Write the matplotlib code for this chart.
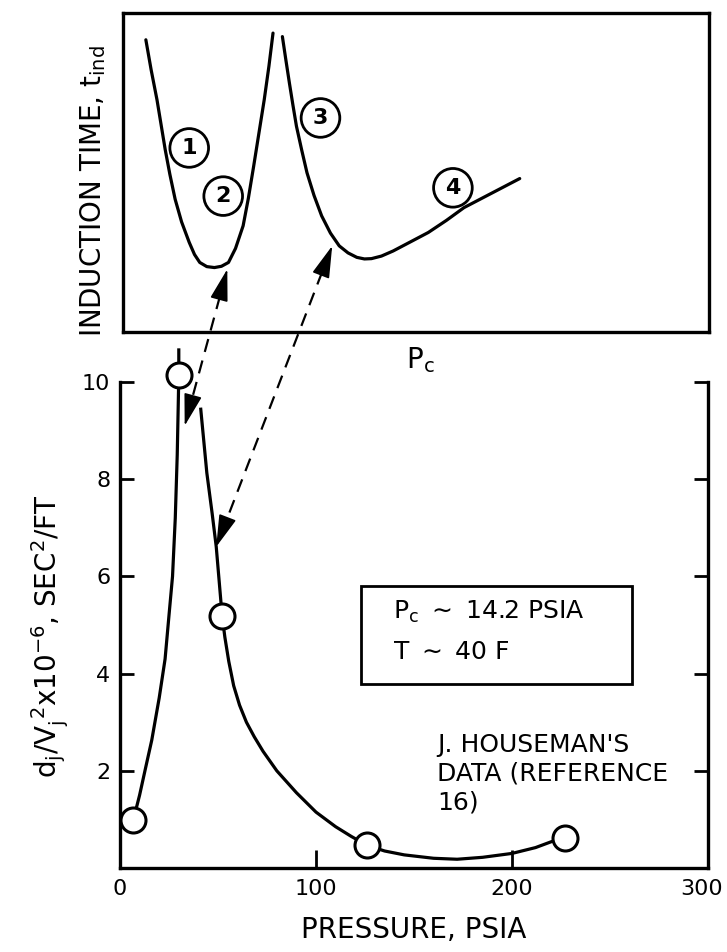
import numpy as np
import matplotlib
matplotlib.use("Agg")
import matplotlib.pyplot as plt
from matplotlib import font_manager as fm
from matplotlib import transforms as mtrans
from matplotlib.lines import Line2D
from matplotlib.patches import FancyArrowPatch, Rectangle

# ---------------- data ----------------
# Bottom panel: measured points (pressure, psia ; d_j/V_j^2 x 1e-6)
pressure_pts = [6.8, 30.0, 52.1, 125.9, 227.0]
ratio_pts = [0.99, 10.14, 5.19, 0.47, 0.62]

# Faired curve, rising branch
rise_x = [6.8, 10.0, 13.0, 16.2, 20.0, 23.0, 25.0, 26.8, 28.2, 29.2, 29.7, 30.0, 30.0]
rise_y = [0.99, 1.5, 2.05, 2.63, 3.5, 4.3, 5.2, 6.0, 7.2, 8.5, 9.5, 10.14, 10.66]

# Faired curve, falling branch
fall_x = [41.2, 44.3, 47.0, 49.1, 52.1, 53.5, 55.5, 58.0, 61.0, 64.5, 68.5, 73.0,
          80.0, 90.0, 100.0, 110.0, 118.0, 125.9, 135.0, 145.0, 160.0, 172.0,
          185.0, 200.0, 212.0, 220.0, 227.0]
fall_y = [9.44, 8.13, 7.3, 6.61, 5.19, 4.75, 4.25, 3.75, 3.35, 3.0, 2.7, 2.4,
          2.0, 1.55, 1.15, 0.85, 0.65, 0.47, 0.35, 0.27, 0.2, 0.18,
          0.22, 0.30, 0.42, 0.54, 0.62]

xticks = [0, 100, 200, 300]
yticks = [2, 4, 6, 8, 10]

# Top panel: schematic induction-time curve (axes fractions)
top_a_x = [0.039, 0.048, 0.058, 0.065, 0.072, 0.080, 0.089, 0.100, 0.113, 0.122, 0.131,
           0.143, 0.156, 0.168, 0.180, 0.192, 0.205, 0.214, 0.223, 0.232, 0.241, 0.249, 0.256]
top_a_y = [0.916, 0.822, 0.728, 0.650, 0.572, 0.494, 0.416, 0.345, 0.281, 0.243, 0.218,
           0.205, 0.202, 0.206, 0.218, 0.262, 0.333, 0.420, 0.520, 0.624, 0.728, 0.833, 0.937]
top_b_x = [0.272, 0.278, 0.284, 0.290, 0.296, 0.305, 0.314, 0.326, 0.339, 0.354, 0.369,
           0.384, 0.399, 0.412, 0.424, 0.441, 0.461, 0.490, 0.521, 0.552, 0.582, 0.630, 0.677]
top_b_y = [0.926, 0.852, 0.780, 0.711, 0.645, 0.570, 0.499, 0.428, 0.364, 0.310, 0.270,
           0.248, 0.234, 0.229, 0.230, 0.238, 0.254, 0.282, 0.312, 0.350, 0.390, 0.436, 0.481]

regime_labels = ["1", "2", "3", "4"]
regime_x = [0.113, 0.171, 0.337, 0.563]
regime_y = [0.577, 0.426, 0.671, 0.452]

# ---------------- fonts ----------------
avail = {f.name for f in fm.fontManager.ttflist}
if "Liberation Sans Narrow" in avail:
    FAM = ["Liberation Sans Narrow", "DejaVu Sans"]
    FS, FL, FT, FN = 20, 22, 20, 18
else:
    FAM = ["DejaVu Sans"]
    FS, FL, FT, FN = 18, 20, 16, 16
plt.rcParams["font.family"] = FAM
plt.rcParams["mathtext.default"] = "regular"

W, H = 727, 952
fig = plt.figure(figsize=(W / 100, H / 100), dpi=100)
fig.patch.set_facecolor("white")

def fx(px):
    return px / W

def fy(py):
    return 1 - py / H

LW = 2.3

# ---------------- top panel ----------------
axt = fig.add_axes([fx(123), fy(332), fx(709) - fx(123), fy(13) - fy(332)])
axt.set_xlim(0, 1)
axt.set_ylim(0, 1)
axt.set_xticks([])
axt.set_yticks([])
for s in axt.spines.values():
    s.set_linewidth(2.4)
axt.plot(top_a_x, top_a_y, color="black", lw=LW, solid_capstyle="round", solid_joinstyle="round")
axt.plot(top_b_x, top_b_y, color="black", lw=LW, solid_capstyle="round", solid_joinstyle="round")
for lab, x, y in zip(regime_labels, regime_x, regime_y):
    axt.text(x, y, lab, ha="center", va="center", fontsize=FN, fontweight="bold",
             bbox=dict(boxstyle="circle,pad=0.42", fc="white", ec="black", lw=2.0))

fig.text(fx(93), fy(191), r"INDUCTION TIME, t$_{\mathregular{ind}}$", rotation=90,
         ha="center", va="center", fontsize=FL)
fig.text(fx(420), fy(360), r"P$_{\mathregular{c}}$", ha="center", va="center", fontsize=FL)

# ---------------- bottom panel ----------------
y_top_val = 10.7
axb = fig.add_axes([fx(120), fy(868), fx(708) - fx(120), fy(868 - y_top_val * 48.6) - fy(868)])
axb.set_xlim(0, 300)
axb.set_ylim(0, y_top_val)
axb.spines["top"].set_visible(False)
for k in ("left", "right", "bottom"):
    axb.spines[k].set_linewidth(2.4)
axb.spines["left"].set_bounds(0, 10)
axb.spines["right"].set_bounds(0, 10)
axb.set_xticks(xticks)
axb.set_xticklabels([str(v) for v in xticks], fontsize=FT)
axb.set_yticks(yticks)
axb.set_yticklabels([str(v) for v in yticks], fontsize=FT)
axb.tick_params(axis="x", direction="in", length=13, width=2, pad=8)
axb.tick_params(axis="y", direction="in", length=10, width=2, pad=7, right=True)
axb.patch.set_alpha(0)
# nudge the last x tick label so it stays inside the figure
last_lab = axb.get_xticklabels()[-1]
last_lab.set_transform(last_lab.get_transform() +
                       mtrans.ScaledTranslation(-6 / 100, 0, fig.dpi_scale_trans))

axb.plot(rise_x, rise_y, color="black", lw=LW, clip_on=False, solid_joinstyle="round")
axb.plot(fall_x, fall_y, color="black", lw=LW, clip_on=False, solid_joinstyle="round")
axb.plot(pressure_pts, ratio_pts, "o", ms=18, mfc="white", mec="black", mew=2.2,
         clip_on=False, zorder=4)

axb.set_xlabel("PRESSURE, PSIA", fontsize=FL, labelpad=12)
fig.text(fx(50), fy(636),
         r"d$_{\mathregular{j}}$/V$_{\mathregular{j}}^{\mathregular{\ 2}}$x10$^{\mathregular{-6}}$, SEC$^{\mathregular{2}}$/FT",
         rotation=90, ha="center", va="center", fontsize=FL)

# condition box
bx0, bx1 = (360.7 - 120) / 588, (631.7 - 120) / 588
by0, by1 = (868 - 684) / 520, (868 - 586) / 520
axb.add_patch(Rectangle((bx0, by0), bx1 - bx0, by1 - by0, transform=axb.transAxes,
                        fill=False, ec="black", lw=2.0))
axb.text((393 - 120) / 588, (868 - 612) / 520, r"P$_{\mathregular{c}}$ $\sim$ 14.2 PSIA",
         transform=axb.transAxes, ha="left", va="center", fontsize=FS)
axb.text((393 - 120) / 588, (868 - 652) / 520, r"T $\sim$ 40 F",
         transform=axb.transAxes, ha="left", va="center", fontsize=FS)

axb.text((437 - 120) / 588, (868 - 733) / 520, "J. HOUSEMAN'S\nDATA (REFERENCE\n16)",
         transform=axb.transAxes, ha="left", va="top", fontsize=FS, linespacing=1.25)

# ---------------- dashed double arrows between panels ----------------
inv = fig.transFigure.inverted()

def link(top_frac, bot_data):
    p1 = np.array(axt.transAxes.transform(top_frac))
    p2 = np.array(axb.transData.transform(bot_data))
    d = p2 - p1
    u = d / np.hypot(*d)
    hl = 28.0
    a1 = p1 + u * hl
    a2 = p2 - u * hl
    f1, f2 = inv.transform(a1), inv.transform(a2)
    fig.add_artist(Line2D([f1[0], f2[0]], [f1[1], f2[1]], transform=fig.transFigure,
                          color="black", lw=1.6, dashes=(6, 4)))
    for base, tip in ((a1, p1), (a2, p2)):
        fb, ft = inv.transform(base), inv.transform(tip)
        fig.add_artist(FancyArrowPatch(fb, ft, transform=fig.transFigure,
                                       arrowstyle="-|>,head_length=1.0,head_width=0.28",
                                       mutation_scale=20, color="black", lw=1.2,
                                       shrinkA=0, shrinkB=0))

link((0.178, 0.197), (33.0, 9.1))
link((0.357, 0.270), (49.1, 6.61))

fig.savefig("out.png", dpi=100, facecolor="white")
